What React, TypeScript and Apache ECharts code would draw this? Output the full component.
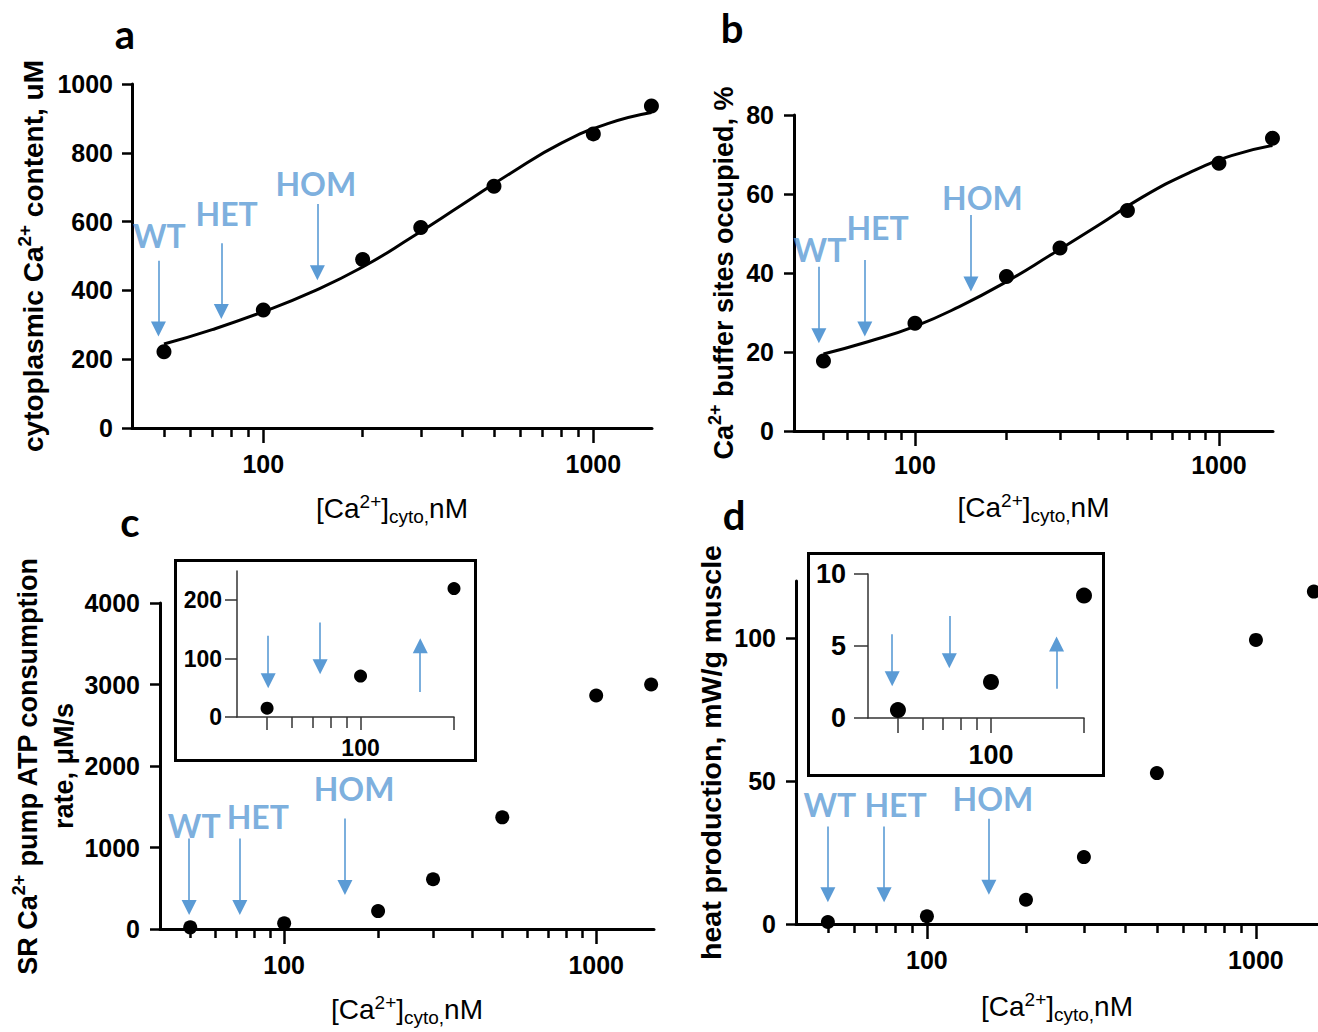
import { useEffect, useRef } from 'react';
import * as echarts from 'echarts';

// ---------------- data ----------------
const caCyto = [50, 100, 200, 300, 500, 1000, 1500];
const contentA = [222, 343, 490, 583, 703, 855, 936];
const bufferB = [17.7, 27.3, 39.1, 46.3, 55.8, 67.8, 74.1];
const atpC = [20, 70, 220, 610, 1370, 2865, 3000];
const heatD = [0.7, 2.7, 8.5, 23.4, 52.8, 99.4, 116.3];

// fitted curves
const fitX = [50, 70, 100, 140, 200, 280, 400, 560, 800, 1100, 1500];
const fitA = [244, 286, 338, 395, 468, 553, 649, 740, 828, 884, 917];
const fitB = [19.5, 22.6, 26.5, 31.5, 37.8, 44.6, 52, 59.2, 65.4, 69.7, 72.3];

const insetCa = [50, 100, 200];
const insetAtpC = [15, 70, 220];
const insetHeatD = [0.55, 2.5, 8.5];

const genotypes = ['WT', 'HET', 'HOM'];

// genotype tag anchors (data units)
const tagAx = [48.4, 77.4, 144.2];
const tagAy = [560, 624, 711];
const tagBx = [48.7, 75.3, 166.7];
const tagBy = [45.9, 51.6, 59.2];
const tagCx = [51.5, 82.3, 167.5];
const tagCy = [1273, 1375, 1722];
const tagDx = [50.7, 80.3, 158.7];
const tagDy = [41.7, 41.7, 44];

// arrows: x, tail value, head value
const arrowAx = [48.1, 74.6, 145.8];
const arrowAfrom = [486, 537, 651];
const arrowAto = [288, 339, 451];
const arrowBx = [48.3, 68.4, 152.8];
const arrowBfrom = [41.6, 43.3, 54.7];
const arrowBto = [24.1, 25.8, 37.2];
const arrowCx = [49.6, 72.1, 156.6];
const arrowCfrom = [1110, 1110, 1355];
const arrowCto = [263, 263, 508];
const arrowDx = [50, 74.1, 154.3];
const arrowDfrom = [34.1, 34.1, 36.8];
const arrowDto = [10.2, 10.2, 12.9];
const arrowCix = [50.4, 74.1, 155.7];
const arrowCifrom = [139, 162, 43];
const arrowCito = [62, 86, 122];
const arrowDix = [47.9, 73.3, 163];
const arrowDifrom = [5.82, 7.09, 2.03];
const arrowDito = [2.72, 3.98, 5.14];

// ticks
const xMinorTicks = [50, 60, 70, 80, 90, 200, 300, 400, 500, 600, 700, 800, 900];
const xMajorTicks = [100, 1000];
const xTickLabels = [100, 1000];
const insetMinorTicks = [60, 70, 80, 90];
const insetMajorTicks = [50, 100, 200];
const insetTickLabels = [100];
const yTicksA = [0, 200, 400, 600, 800, 1000];
const yTicksB = [0, 20, 40, 60, 80];
const yTicksC = [0, 1000, 2000, 3000, 4000];
const yTicksD = [0, 50, 100];
const yTicksCi = [0, 100, 200];
const yTicksDi = [0, 5, 10];

const xTitle = '{n|[Ca}{sup|2+}{n|]}{sub|cyto,}{n|nM}';
const yTitleA = '{b|cytoplasmic Ca}{bs|2+}{b| content, uM}';
const yTitleB = '{b|Ca}{bs|2+}{b| buffer sites occupied, %}';
const yTitleC = '{b|SR Ca}{bs|2+}{b| pump ATP consumption}\n{b|rate, μM/s}';
const yTitleD = '{b|heat production, mW/g muscle}';

// ---------------- styling ----------------
const FONT = '"Liberation Sans", Arial, Helvetica, sans-serif';
const LATO = 'Lato, "Open Sans", sans-serif';
const BLUE = '#5B9BD5';

const fmt = (v: number) => String(Math.round(v));

const xNameStyle = {
  fontFamily: FONT,
  fontSize: 28,
  color: '#000',
  rich: {
    n: { fontFamily: FONT, fontSize: 28, color: '#000', lineHeight: 40, verticalAlign: 'middle' },
    sup: { fontFamily: FONT, fontSize: 19, color: '#000', lineHeight: 40, verticalAlign: 'middle', padding: [0, 0, 14, 0] },
    sub: { fontFamily: FONT, fontSize: 19, color: '#000', lineHeight: 40, verticalAlign: 'middle', padding: [16, 0, 0, 0] },
  },
};

const yNameStyle = (lh: number, size: number) => ({
  fontFamily: FONT,
  fontSize: size,
  fontWeight: 'bold',
  color: '#000',
  align: 'center',
  rich: {
    b: { fontFamily: FONT, fontSize: size, fontWeight: 'bold', color: '#000', lineHeight: lh, verticalAlign: 'middle', align: 'center' },
    bs: { fontFamily: FONT, fontSize: Math.round(size * 0.67), fontWeight: 'bold', color: '#000', lineHeight: lh, verticalAlign: 'middle', padding: [0, 0, 18, 0] },
  },
});

type XCfg = {
  inset?: boolean;
  name?: string;
  nameGap?: number;
  minor: number[];
  major: number[];
  labels: number[];
  minorLen: number;
  majorLen: number;
  labelMargin: number;
  labelSize: number;
};

function xAxes(g: number, max: number, cfg: XCfg) {
  const color = cfg.inset ? '#333' : '#000';
  const lineW = cfg.inset ? 1.5 : 3;
  const tickW = cfg.inset ? 1.5 : 2.5;
  return [
    {
      type: 'log',
      logBase: 10,
      gridIndex: g,
      min: 40,
      max,
      position: 'bottom',
      name: cfg.name,
      nameLocation: 'middle',
      nameGap: cfg.nameGap,
      nameTextStyle: xNameStyle,
      axisLine: { show: true, onZero: false, lineStyle: { color, width: lineW } },
      axisTick: { show: true, customValues: cfg.minor, length: cfg.minorLen, lineStyle: { color, width: tickW } },
      axisLabel: {
        show: true,
        customValues: cfg.labels,
        formatter: fmt,
        margin: cfg.labelMargin,
        fontSize: cfg.labelSize,
        fontWeight: 'bold',
        color: '#000',
        fontFamily: FONT,
      },
      splitLine: { show: false },
      minorTick: { show: false },
      minorSplitLine: { show: false },
    },
    {
      type: 'log',
      logBase: 10,
      gridIndex: g,
      min: 40,
      max,
      position: 'bottom',
      axisLine: { show: false },
      axisTick: { show: true, customValues: cfg.major, length: cfg.majorLen, lineStyle: { color, width: tickW } },
      axisLabel: { show: false },
      splitLine: { show: false },
    },
  ];
}

type YCfg = {
  inset?: boolean;
  max: number;
  ticks: number[];
  name?: string;
  nameGap?: number;
  nameSize?: number;
  lineHeight?: number;
  tickLen: number;
  labelMargin: number;
  labelSize: number;
};

function yAxis(g: number, cfg: YCfg) {
  const color = cfg.inset ? '#333' : '#000';
  const lineW = cfg.inset ? 1.5 : 3;
  const tickW = cfg.inset ? 1.5 : 2.5;
  return {
    type: 'value',
    gridIndex: g,
    min: 0,
    max: cfg.max,
    position: 'left',
    name: cfg.name,
    nameLocation: 'middle',
    nameRotate: 90,
    nameGap: cfg.nameGap,
    nameTextStyle: yNameStyle(cfg.lineHeight || 34, cfg.nameSize || 27),
    axisLine: { show: true, onZero: false, lineStyle: { color, width: lineW } },
    axisTick: { show: true, customValues: cfg.ticks, length: cfg.tickLen, lineStyle: { color, width: tickW } },
    axisLabel: {
      show: true,
      customValues: cfg.ticks,
      formatter: fmt,
      margin: cfg.labelMargin,
      fontSize: cfg.labelSize,
      fontWeight: 'bold',
      color: '#000',
      fontFamily: FONT,
    },
    splitLine: { show: false },
  };
}

const pair = (xs: number[], ys: number[]) => xs.map((x, i) => [x, ys[i]]);

function points(g: number, xs: number[], ys: number[], size: number) {
  return {
    type: 'scatter',
    xAxisIndex: 2 * g,
    yAxisIndex: g,
    data: pair(xs, ys),
    symbol: 'circle',
    symbolSize: size,
    itemStyle: { color: '#000', opacity: 1 },
    silent: true,
    z: 5,
  };
}

function fitLine(g: number, xs: number[], ys: number[]) {
  return {
    type: 'line',
    xAxisIndex: 2 * g,
    yAxisIndex: g,
    data: pair(xs, ys),
    smooth: 0.5,
    symbol: 'none',
    lineStyle: { color: '#000', width: 3 },
    silent: true,
    z: 4,
  };
}

function annotations(
  g: number,
  tagX: number[] | null,
  tagY: number[] | null,
  ax: number[],
  from: number[],
  to: number[],
  headSize: number
) {
  return {
    type: 'scatter',
    xAxisIndex: 2 * g,
    yAxisIndex: g,
    silent: true,
    symbolSize: 1,
    itemStyle: { color: 'rgba(0,0,0,0)' },
    data: tagX && tagY ? genotypes.map((name, i) => ({ name, value: [tagX[i], tagY[i]] })) : [],
    label: {
      show: true,
      position: 'inside',
      formatter: '{b}',
      color: BLUE,
      fontFamily: LATO,
      fontWeight: 'bold',
      fontSize: 32,
    },
    markLine: {
      silent: true,
      animation: false,
      symbol: ['none', 'triangle'],
      symbolSize: headSize,
      label: { show: false },
      lineStyle: { color: BLUE, width: 1.6, type: 'solid', opacity: 1 },
      itemStyle: { color: BLUE },
      emphasis: { disabled: true },
      data: ax.map((x, i) => [{ coord: [x, from[i]] }, { coord: [x, to[i]] }]),
    },
    z: 6,
  };
}

function letter(text: string, x: number, y: number) {
  return {
    type: 'text',
    x,
    y,
    silent: true,
    style: {
      text,
      fontFamily: LATO,
      fontWeight: 'bold',
      fontSize: 40,
      fill: '#000',
      align: 'center',
      verticalAlign: 'middle',
      textAlign: 'center',
      textVerticalAlign: 'middle',
    },
  };
}

function box(x: number, y: number, width: number, height: number) {
  return {
    type: 'rect',
    silent: true,
    shape: { x, y, width, height },
    style: { fill: 'none', stroke: '#000', lineWidth: 3 },
    z: 1,
  };
}

function buildOption() {
  const mainX = { minor: xMinorTicks, major: xMajorTicks, labels: xTickLabels, minorLen: 9, majorLen: 15, labelSize: 25 };
  return {
    animation: false,
    backgroundColor: '#fff',
    tooltip: { show: false },
    grid: [
      { left: 132, top: 84, width: 520, height: 344, outerBoundsMode: 'none', containLabel: false },
      { left: 794, top: 115, width: 479, height: 316, outerBoundsMode: 'none', containLabel: false },
      { left: 160, top: 603, width: 494, height: 326, outerBoundsMode: 'none', containLabel: false },
      { left: 796, top: 581, width: 522, height: 343, outerBoundsMode: 'none', containLabel: false },
      { left: 237, top: 571, width: 217, height: 146, outerBoundsMode: 'none', containLabel: false },
      { left: 868, top: 574, width: 216, height: 144, outerBoundsMode: 'none', containLabel: false },
    ],
    xAxis: [
      ...xAxes(0, 1506, { ...mainX, name: xTitle, nameGap: 60, labelMargin: 23 }),
      ...xAxes(1, 1506, { ...mainX, name: xTitle, nameGap: 56, labelMargin: 21 }),
      ...xAxes(2, 1532, { ...mainX, name: xTitle, nameGap: 60, labelMargin: 23 }),
      ...xAxes(3, 1544, { ...mainX, name: xTitle, nameGap: 62, labelMargin: 23 }),
      ...xAxes(4, 200, {
        inset: true, minor: insetMinorTicks, major: insetMajorTicks, labels: insetTickLabels,
        minorLen: 11, majorLen: 13, labelMargin: 19, labelSize: 23,
      }),
      ...xAxes(5, 200, {
        inset: true, minor: insetMinorTicks, major: insetMajorTicks, labels: insetTickLabels,
        minorLen: 12, majorLen: 15, labelMargin: 23, labelSize: 27,
      }),
    ],
    yAxis: [
      yAxis(0, { max: 1000, ticks: yTicksA, name: yTitleA, nameGap: 82, nameSize: 28, tickLen: 10, labelMargin: 19, labelSize: 25 }),
      yAxis(1, { max: 80, ticks: yTicksB, name: yTitleB, nameGap: 49, nameSize: 27, tickLen: 10, labelMargin: 20, labelSize: 25 }),
      yAxis(2, { max: 4000, ticks: yTicksC, name: yTitleC, nameGap: 78, nameSize: 27, lineHeight: 36, tickLen: 10, labelMargin: 20, labelSize: 25 }),
      yAxis(3, { max: 120, ticks: yTicksD, name: yTitleD, nameGap: 68, nameSize: 28.5, tickLen: 10, labelMargin: 20, labelSize: 25 }),
      yAxis(4, { inset: true, max: 250, ticks: yTicksCi, tickLen: 12, labelMargin: 15, labelSize: 23 }),
      yAxis(5, { inset: true, max: 10, ticks: yTicksDi, tickLen: 14, labelMargin: 22, labelSize: 27 }),
    ],
    series: [
      fitLine(0, fitX, fitA),
      points(0, caCyto, contentA, 15),
      annotations(0, tagAx, tagAy, arrowAx, arrowAfrom, arrowAto, 15),
      fitLine(1, fitX, fitB),
      points(1, caCyto, bufferB, 15),
      annotations(1, tagBx, tagBy, arrowBx, arrowBfrom, arrowBto, 15),
      points(2, caCyto, atpC, 14),
      annotations(2, tagCx, tagCy, arrowCx, arrowCfrom, arrowCto, 15),
      points(3, caCyto, heatD, 14),
      annotations(3, tagDx, tagDy, arrowDx, arrowDfrom, arrowDto, 15),
      points(4, insetCa, insetAtpC, 13),
      annotations(4, null, null, arrowCix, arrowCifrom, arrowCito, 15),
      points(5, insetCa, insetHeatD, 16),
      annotations(5, null, null, arrowDix, arrowDifrom, arrowDito, 15),
    ],
    graphic: [
      box(175.5, 560.5, 300, 200),
      box(808.5, 553.5, 295, 222),
      letter('a', 125, 33.5),
      letter('b', 732, 27.8),
      letter('c', 130, 521.5),
      letter('d', 734, 514.5),
    ],
  };
}

export default function App() {
  const ref = useRef<HTMLDivElement>(null);
  useEffect(() => {
    document.body.style.margin = '0';
    if (!ref.current) return;
    const chart = echarts.init(ref.current, undefined, { renderer: 'svg' });
    chart.setOption(buildOption() as any);
    return () => chart.dispose();
  }, []);
  return <div ref={ref} style={{ width: 1318, height: 1032, background: '#fff' }} />;
}
